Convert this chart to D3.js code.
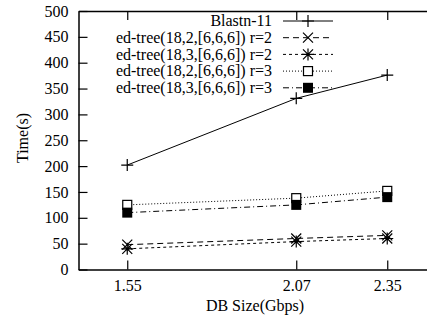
<!DOCTYPE html>
<html><head><meta charset="utf-8">
<script src="https://cdn.jsdelivr.net/npm/d3@7"></script>
<style>body{margin:0;background:#fff}svg{display:block}text{font-family:"Liberation Serif","Times New Roman",serif;fill:#000}</style>
</head><body>
<script>
const categories = [1.55, 2.07, 2.35];
const xTickLabels = ["1.55", "2.07", "2.35"];
const yTicks = [0, 50, 100, 150, 200, 250, 300, 350, 400, 450, 500];
const seriesNames = ["Blastn-11", "ed-tree(18,2,[6,6,6]) r=2", "ed-tree(18,3,[6,6,6]) r=2", "ed-tree(18,2,[6,6,6]) r=3", "ed-tree(18,3,[6,6,6]) r=3"];
const blastn = [202, 331, 376];
const ed1823r2 = [48, 60, 66];
const ed1833r2 = [40, 54, 60];
const ed1823r3 = [125, 138, 152];
const ed1833r3 = [110, 125, 140];
const seriesValues = [blastn, ed1823r2, ed1833r2, ed1823r3, ed1833r3];
const dashes = [null, "6,4", "3,3", "1,2", "6,3,1,3"];
const markers = ["plus", "cross", "star", "square", "fsquare"];

const FONT = '"Liberation Serif","Times New Roman",serif';
const W = 427, H = 324;
const svg = d3.select("body").append("svg").attr("width", W).attr("height", H)
  .attr("font-family", FONT);
const x = d3.scaleLinear().domain([1.4, 2.5]).range([78.5, 436]);
const y = d3.scaleLinear().domain([0, 500]).range([269.5, 11]);

const tl = 9;
function styleAxis(g) {
  g.attr("font-family", FONT).attr("font-size", 16);
  g.selectAll("text").attr("font-family", FONT).attr("font-size", 16);
  g.select(".domain").attr("stroke-width", 1.5);
}
svg.append("g").attr("transform", `translate(78.5,0)`)
  .call(d3.axisLeft(y).tickValues(yTicks).tickSize(-tl).tickPadding(10).tickSizeOuter(0))
  .call(styleAxis);
svg.append("g").attr("transform", `translate(436,0)`)
  .call(d3.axisRight(y).tickValues(yTicks).tickSize(-tl).tickFormat("").tickSizeOuter(0))
  .call(styleAxis);
svg.append("g").attr("transform", `translate(0,269.5)`)
  .call(d3.axisBottom(x).tickValues(categories).tickFormat((d, i) => xTickLabels[i]).tickSize(-tl).tickPadding(10).tickSizeOuter(0))
  .call(styleAxis);
svg.append("g").attr("transform", `translate(0,11)`)
  .call(d3.axisTop(x).tickValues(categories).tickSize(-tl).tickFormat("").tickSizeOuter(0))
  .call(styleAxis);
svg.selectAll(".tick line").attr("stroke-width", 1.2);

svg.append("text").attr("transform", "translate(28,138) rotate(-90)").attr("text-anchor", "middle").attr("font-size", 16).text("Time(s)");
svg.append("text").attr("x", 255).attr("y", 311).attr("text-anchor", "middle").attr("font-size", 16).text("DB Size(Gbps)");

function drawMarker(g, type, cx, cy) {
  const s = 6;
  if (type === "plus") {
    g.append("path").attr("d", `M${cx - s},${cy}H${cx + s}M${cx},${cy - s}V${cy + s}`).attr("stroke", "#000").attr("stroke-width", 1.2);
  } else if (type === "cross") {
    const r = 5;
    g.append("path").attr("d", `M${cx - r},${cy - r}L${cx + r},${cy + r}M${cx - r},${cy + r}L${cx + r},${cy - r}`).attr("stroke", "#000").attr("stroke-width", 1.2);
  } else if (type === "star") {
    const r = 5;
    g.append("path").attr("d", `M${cx - r},${cy - r}L${cx + r},${cy + r}M${cx - r},${cy + r}L${cx + r},${cy - r}M${cx - r - 1},${cy}H${cx + r + 1}M${cx},${cy - r - 1}V${cy + r + 1}`).attr("stroke", "#000").attr("stroke-width", 1.2);
  } else if (type === "square") {
    g.append("rect").attr("x", cx - 4.5).attr("y", cy - 4.5).attr("width", 9).attr("height", 9).attr("fill", "#fff").attr("stroke", "#000").attr("stroke-width", 1.2);
  } else {
    g.append("rect").attr("x", cx - 5).attr("y", cy - 5).attr("width", 10).attr("height", 10).attr("fill", "#000");
  }
}

const line = d3.line().x((d, i) => x(categories[i])).y(d => y(d));
seriesValues.forEach((vals, k) => {
  const g = svg.append("g");
  g.append("path").attr("d", line(vals)).attr("fill", "none").attr("stroke", "#000").attr("stroke-width", 1)
    .attr("stroke-dasharray", dashes[k]);
  vals.forEach((v, i) => drawMarker(g, markers[k], x(categories[i]), y(v)));
});

const legY0 = 21, legDy = 16.7;
seriesNames.forEach((name, k) => {
  const ly = legY0 + k * legDy;
  const g = svg.append("g");
  g.append("text").attr("x", 272).attr("y", ly).attr("dy", "0.33em").attr("text-anchor", "end").attr("font-size", 16).text(name);
  g.append("line").attr("x1", 283).attr("x2", 333).attr("y1", ly).attr("y2", ly).attr("stroke", "#000").attr("stroke-width", 1).attr("stroke-dasharray", dashes[k]);
  drawMarker(g, markers[k], 308, ly);
});
</script>
</body></html>
